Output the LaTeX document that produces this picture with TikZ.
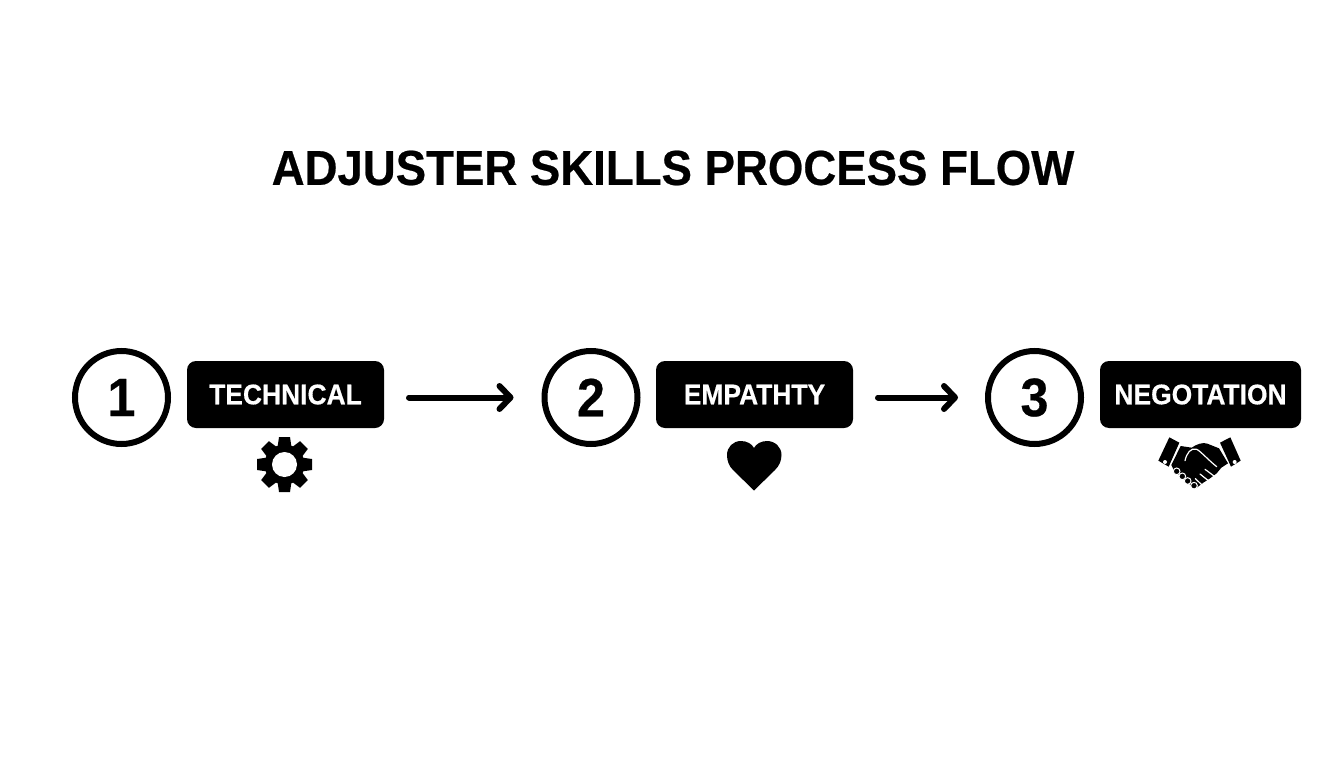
\documentclass[tikz,border=0pt]{standalone}
\usepackage{fontspec}
\setmainfont{Liberation Sans}[BoldFeatures={FakeStretch=0.93,FakeBold=0.5}]
\usetikzlibrary{arrows.meta,positioning}
\pgfdeclarearrow{
  name=Chevron,
  setup code={
    \pgfarrowssettipend{3pt}
    \pgfarrowssetlineend{-3pt}
    \pgfarrowssetbackend{-14pt}
    \pgfarrowssetvisualbackend{-3pt}
  },
  drawing code={
    \pgfsetdash{}{0pt}
    \pgfsetroundcap
    \pgfsetroundjoin
    \pgfpathmoveto{\pgfqpoint{-11pt}{11.5pt}}
    \pgfpathlineto{\pgfqpoint{0pt}{0pt}}
    \pgfpathlineto{\pgfqpoint{-11pt}{-11.5pt}}
    \pgfusepathqstroke
  }
}
\tikzstyle{numring} = [circle, draw, line width=6pt, fill=white, minimum size=93pt, inner sep=0pt,
  font=\fontsize{54}{54}\bfseries]
\tikzstyle{skillbox} = [rectangle, fill=black, text=white, rounded corners=9pt, minimum width=197pt,
  minimum height=67pt, inner sep=0pt, outer sep=0pt, font=\fontsize{28.4}{28.4}\bfseries]
\tikzstyle{flow} = [draw, line width=6pt, line cap=round, -Chevron]
\tikzset{
  icon/.style={fill=black, draw=none},
  iconcut/.style={draw=white, line width=1.2pt, line cap=round, line join=round}
}

\begin{document}
\begin{tikzpicture}[x=1pt,y=-1pt]

  \useasboundingbox (0,0) rectangle (1344,768);
  \node [font=\fontsize{49}{49}\bfseries] at (673,168) (title) {ADJUSTER SKILLS PROCESS FLOW};

  %%%%%%%%%%%%%%%%%%%%%%%%%%%%%%%%%%%%%%%%%%%%%%%%%%%%%%%%%%%%%%
  %                        STEPS                               %
  %%%%%%%%%%%%%%%%%%%%%%%%%%%%%%%%%%%%%%%%%%%%%%%%%%%%%%%%%%%%%%

  \node [numring] at (121.5,397.5) (num1) {1};
  \node [skillbox, right = 16pt of num1, yshift=3pt] (technical) {TECHNICAL};
  \node [numring] at (591,397.5) (num2) {2};
  \node [skillbox, right = 15.5pt of num2, yshift=3pt] (empathy) {EMPATHTY};
  \node [numring] at (1034.5,397.5) (num3) {3};
  \node [skillbox, minimum width=201pt, right = 16pt of num3, yshift=3pt] (negotiation) {NEGOTATION};

  \draw[flow, shorten <=25pt, shorten >=28pt] (technical.east |- num2) -- (num2);
  \draw[flow, shorten <=25pt, shorten >=27pt] (empathy.east |- num3) -- (num3);

  %%%%%%%%%%%%%%%%%%%%%%%%%%%%%%%%%%%%%%%%%%%%%%%%%%%%%%%%%%%%%%
  %                        ICONS                               %
  %%%%%%%%%%%%%%%%%%%%%%%%%%%%%%%%%%%%%%%%%%%%%%%%%%%%%%%%%%%%%%

  % gear
  \begin{scope}[shift={(284.5,464.5)}]
    \fill[icon] (0,0) circle (20);
    \foreach \a in {0,45,...,315} {
      \fill[icon, rotate=\a] (-5.5,-27.5) -- (5.5,-27.5) -- (7,-17) -- (-7,-17) -- cycle;
    }
    \fill[white] (0,0) circle (12.5);
  \end{scope}

  % heart
  \fill[icon] (754,490.5) -- (733,470) .. controls (729,466) and (727,461) .. (727,455)
    .. controls (727,447) and (733,441) .. (741,441)
    .. controls (747,441) and (752,444) .. (754,448)
    .. controls (756,444) and (761,441) .. (767,441)
    .. controls (775,441) and (781.5,447) .. (781.5,455)
    .. controls (781.5,461) and (779,466) .. (775,470) -- cycle;

  % handshake
  \begin{scope}[shift={(1150,430)}, scale=1/3]
    \fill[icon] (58,22) -- (88,38) -- (56,110) -- (25,92) -- cycle;
    \fill[icon] (241,22) -- (210,38) -- (243,110) -- (272,92) -- cycle;
    \fill[white] (45,96) circle (6);
    \fill[white] (254,96) circle (6);
    \fill[icon] (92,48) -- (125,53) .. controls (140,42) and (160,36) .. (172,41) -- (207,55) -- (234,100)
      -- (214,113) -- (200,130) -- (180,145) -- (160,158) -- (135,177) -- (105,150) -- (72,122) -- (64,105) -- cycle;
    \foreach \x/\y in {80/124, 97/139, 113/153, 132/167} {
      \filldraw[icon, draw=white, line width=1pt] (\x,\y) circle (10);
    }
    \draw[iconcut] (105,92) .. controls (110,70) and (122,52) .. (140,58)
      .. controls (150,62) and (175,90) .. (200,110);
    \draw[iconcut] (165,118) -- (192,138);
    \draw[iconcut] (150,132) -- (175,152);
    \draw[iconcut] (136,146) -- (155,164);
  \end{scope}

\end{tikzpicture}
\end{document}
